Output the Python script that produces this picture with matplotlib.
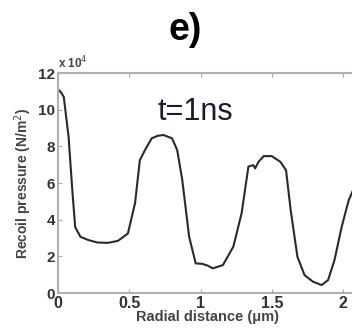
import matplotlib
matplotlib.use("Agg")
import matplotlib.pyplot as plt
import numpy as np

plt.rcParams['font.family'] = ['Liberation Sans', 'DejaVu Sans']

# Radial distance (um) and recoil pressure (x 1e4 N/m^2)
radius = [0.0, 0.02, 0.04, 0.074, 0.098, 0.12, 0.157, 0.21, 0.276, 0.35, 0.42, 0.49, 0.54,
          0.574, 0.61, 0.657, 0.70, 0.74, 0.80, 0.836, 0.871, 0.92, 0.966, 1.01, 1.05,
          1.086, 1.157, 1.23, 1.288, 1.336, 1.37, 1.383, 1.407, 1.443, 1.5, 1.56, 1.6,
          1.633, 1.68, 1.73, 1.79, 1.85, 1.895, 1.94, 1.99, 2.04, 2.07, 2.1]
pressure = [11.1, 10.95, 10.7, 8.5, 5.8, 3.6, 3.07, 2.9, 2.76, 2.74, 2.85, 3.25, 4.9,
            7.25, 7.8, 8.44, 8.58, 8.62, 8.44, 7.8, 6.2, 3.07, 1.62, 1.6, 1.5,
            1.35, 1.53, 2.53, 4.35, 6.9, 6.98, 6.8, 7.16, 7.47, 7.47, 7.16, 6.7,
            4.5, 1.98, 0.98, 0.62, 0.44, 0.71, 1.8, 3.6, 5.07, 5.6, 5.6]

xticks = [0, 0.5, 1, 1.5, 2]
xticklabels = ['0', '0.5', '1', '1.5', '2']
yticks = [0, 2, 4, 6, 8, 10, 12]
yticklabels = ['0', '2', '4', '6', '8', '10', '12']

fig = plt.figure(figsize=(3.52, 3.35), dpi=100)
ax = fig.add_axes([0.165, 0.125, 0.85, 0.657])
ax.plot(radius, pressure, color='#2a2a2a', lw=1.5, solid_joinstyle='round')
ax.set_xlim(0, 2.1)
ax.set_ylim(0, 12)
ax.set_xticks(xticks)
ax.set_xticklabels(xticklabels, fontsize=11.5, fontweight='bold', color='#333333')
ax.set_yticks(yticks)
ax.set_yticklabels(yticklabels, fontsize=11, fontweight='bold', color='#333333')
ax.tick_params(direction='in', length=3, width=0.8, color='#aaaaaa', top=True, right=True, pad=2)
for s in ax.spines.values():
    s.set_color('#b0b0b0')
    s.set_linewidth(1.5)
ax.set_xlabel('Radial distance (\u03bcm)', fontsize=10.5, fontweight='bold', color='#444444', labelpad=-1)
ax.set_ylabel('Recoil pressure (N/m$^2$)', fontsize=10, fontweight='bold', color='#444444', labelpad=3)
ax.text(0.0, 1.01, 'x 10$^4$', transform=ax.transAxes, fontsize=8.5, fontweight='bold', color='#444444',
        ha='left', va='bottom')
ax.text(0.96, 9.9, 't=1ns', fontsize=22, color='#1a1a2a', ha='center', va='center')
fig.text(0.525, 0.91, 'e)', fontsize=27, fontweight='bold', ha='center', va='center')
fig.savefig('out.png', dpi=100)
